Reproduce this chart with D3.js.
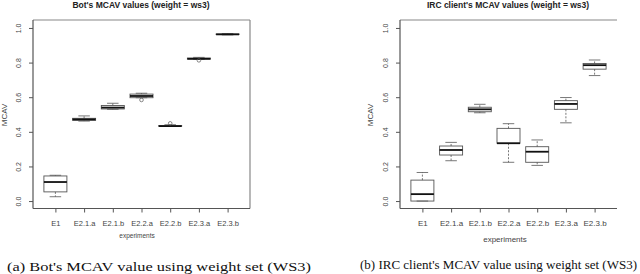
<!DOCTYPE html>
<html>
<head>
<meta charset="utf-8">
<script src="https://cdn.jsdelivr.net/npm/d3@7"></script>
<style>
	body { margin: 0; background: #fff; }
	svg { display: block; }
	text { font-family: 'Liberation Sans', Arial, sans-serif; }
	.cap { font-family: 'Liberation Serif', 'Times New Roman', serif; }
</style>
</head>
<body>
<svg width="640" height="274"></svg>
<script>

const experiments = ['E1', 'E2.1.a', 'E2.1.b', 'E2.2.a', 'E2.2.b', 'E2.3.a', 'E2.3.b']
const yTicks = [0.0, 0.2, 0.4, 0.6, 0.8, 1.0]

// Bot's MCAV values, five-number summaries
const botLo  = [0.025, 0.462, 0.530, 0.597, 0.433, 0.818, 0.960]
const botQ1  = [0.053, 0.466, 0.532, 0.597, 0.433, 0.820, 0.962]
const botMed = [0.110, 0.472, 0.540, 0.607, 0.433, 0.822, 0.963]
const botQ3  = [0.145, 0.478, 0.552, 0.618, 0.436, 0.826, 0.965]
const botHi  = [0.149, 0.492, 0.565, 0.623, 0.441, 0.830, 0.968]
const botOut = [[], [], [], [0.584], [0.449], [0.813], []]

// IRC client's MCAV values
const ircLo  = [0.000, 0.233, 0.510, 0.224, 0.206, 0.452, 0.725]
const ircQ1  = [0.000, 0.266, 0.516, 0.334, 0.224, 0.530, 0.762]
const ircMed = [0.040, 0.295, 0.530, 0.334, 0.285, 0.561, 0.785]
const ircQ3  = [0.121, 0.318, 0.542, 0.420, 0.314, 0.580, 0.795]
const ircHi  = [0.165, 0.339, 0.559, 0.447, 0.353, 0.598, 0.815]
const ircOut = [[], [], [], [], [], [], []]

let svg = d3.select('svg')

const panel = (o) => {
	let data = experiments.map((e, i) => ({
		name: e, lo: o.lo[i], q1: o.q1[i], med: o.med[i], q3: o.q3[i], hi: o.hi[i], out: o.out[i]
	}))

	let scX = d3.scalePoint().domain(experiments)
	.range([o.left + 22.4, o.right - 22.4])

	let scY = d3.scaleLinear().domain([-0.043, 1.046]).range([208.5, 20])

	let g = svg.append('g')
	let bw = 23, cw = 11.5

	// frame
	g.append('line').attr('x1', o.left).attr('x2', o.right).attr('y1', 20).attr('y2', 20)
	.attr('stroke', '#888').attr('stroke-width', 1.2)
	if (o.rightEdge) {
		g.append('line').attr('x1', o.right).attr('x2', o.right).attr('y1', 20).attr('y2', 208.5)
		.attr('stroke', '#888').attr('stroke-width', 1.2)
	}

	let yAxis = d3.axisLeft(scY).tickValues(yTicks).tickFormat(d3.format('.1f'))
	.tickSize(4).tickSizeOuter(0)
	let ya = g.append('g').attr('transform', `translate(${o.left},0)`).call(yAxis)
	ya.select('.domain').attr('d', `M0,20V208.5`).attr('stroke', '#555').attr('stroke-width', 1.2)
	ya.selectAll('.tick line').attr('stroke', '#555')
	ya.selectAll('.tick text')
	.attr('x', 0).attr('dy', 0)
	.attr('transform', `translate(-12,0) rotate(-90)`)
	.attr('text-anchor', 'middle')
	.attr('font-size', 7).attr('fill', '#444')

	let xAxis = d3.axisBottom(scX).tickSize(4).tickSizeOuter(0)
	let xa = g.append('g').attr('transform', 'translate(0,208.5)').call(xAxis)
	xa.select('.domain').attr('d', `M${o.left},0H${o.right}`).attr('stroke', '#555').attr('stroke-width', 1.2)
	xa.selectAll('.tick line').attr('stroke', '#555')
	xa.selectAll('.tick text').attr('y', 17).attr('dy', 0)
	.attr('font-size', o.tickFont).attr('fill', '#444')

	let bx = g.selectAll('g.box').data(data).enter().append('g')
	.attr('transform', d => `translate(${scX(d.name)},0)`)

	// whiskers
	bx.append('line').attr('y1', d => scY(d.q3)).attr('y2', d => scY(d.hi))
	.attr('stroke', '#555').attr('stroke-dasharray', '2,1.5').attr('stroke-width', 0.8)
	bx.append('line').attr('y1', d => scY(d.q1)).attr('y2', d => scY(d.lo))
	.attr('stroke', '#555').attr('stroke-dasharray', '2,1.5').attr('stroke-width', 0.8)
	bx.append('line').attr('x1', -cw / 2).attr('x2', cw / 2)
	.attr('y1', d => scY(d.hi)).attr('y2', d => scY(d.hi))
	.attr('stroke', '#555').attr('stroke-width', 0.8)
	bx.append('line').attr('x1', -cw / 2).attr('x2', cw / 2)
	.attr('y1', d => scY(d.lo)).attr('y2', d => scY(d.lo))
	.attr('stroke', '#555').attr('stroke-width', 0.8)

	// box
	bx.append('rect').attr('x', -bw / 2).attr('width', bw)
	.attr('y', d => scY(d.q3)).attr('height', d => scY(d.q1) - scY(d.q3))
	.attr('fill', 'none').attr('stroke', '#555').attr('stroke-width', 0.9)

	bx.append('line').attr('x1', -bw / 2).attr('x2', bw / 2)
	.attr('y1', d => scY(d.med)).attr('y2', d => scY(d.med))
	.attr('stroke', '#111').attr('stroke-width', 1.8)

	bx.selectAll('circle').data(d => d.out).enter().append('circle')
	.attr('cy', d => scY(d)).attr('r', 1.8)
	.attr('fill', 'none').attr('stroke', '#555').attr('stroke-width', 0.7)

	// titles and labels
	g.append('text').attr('x', o.titleX).attr('y', 8).attr('text-anchor', 'middle')
	.attr('font-size', 8.5).attr('font-weight', 'bold').attr('fill', '#222').text(o.title)

	g.append('text').attr('transform', `translate(${o.ylabX},115) rotate(-90)`)
	.attr('text-anchor', 'middle').attr('dy', '0.35em')
	.attr('font-size', 8).attr('fill', '#444').text('MCAV')

	g.append('text').attr('x', o.xlabX).attr('y', o.xlabY).attr('text-anchor', 'middle')
	.attr('font-size', o.xlabFont).attr('fill', '#444').text('experiments')

	g.append('text').attr('class', 'cap').attr('x', o.capX).attr('y', o.capY)
	.attr('font-size', o.capFont).attr('fill', '#111')
	.attr('textLength', o.capW).attr('lengthAdjust', 'spacingAndGlyphs')
	.text(o.caption)
}

panel({
	left: 33, right: 250, rightEdge: true,
	lo: botLo, q1: botQ1, med: botMed, q3: botQ3, hi: botHi, out: botOut,
	title: "Bot's MCAV values (weight = ws3)", titleX: 141,
	ylabX: 4, xlabX: 137, xlabY: 238, xlabFont: 6.5, tickFont: 7.5,
	caption: "(a) Bot's MCAV value using weight set (WS3)",
	capX: 7, capY: 271, capFont: 12.5, capW: 304
})

panel({
	left: 400, right: 617, rightEdge: false,
	lo: ircLo, q1: ircQ1, med: ircMed, q3: ircQ3, hi: ircHi, out: ircOut,
	title: "IRC client's MCAV values (weight = ws3)", titleX: 508,
	ylabX: 370, xlabX: 505, xlabY: 242, xlabFont: 8, tickFont: 8,
	caption: "(b) IRC client's MCAV value using weight set (WS3)",
	capX: 360, capY: 269, capFont: 11.5, capW: 277
})

</script>
</body>
</html>
